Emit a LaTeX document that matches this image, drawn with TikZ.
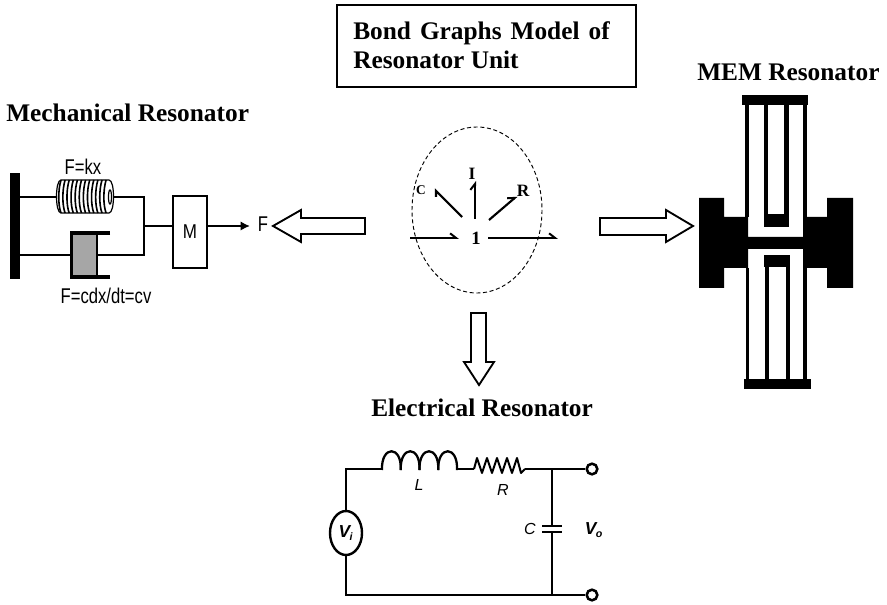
\documentclass[tikz,border=0pt]{standalone}
\usepackage{fontspec}
\setmainfont{Liberation Serif}
\setsansfont{Liberation Sans}
\usetikzlibrary{arrows.meta,calc,shapes.geometric}
\tikzset{
  x=0.75pt,y=-0.75pt,
  wire/.style={line width=1.7pt,draw=black},
  heading/.style={font=\fontsize{19pt}{22pt}\selectfont\bfseries,inner sep=0pt,anchor=west,align=left},
  sanslabel/.style={font=\sffamily\fontsize{16pt}{18pt}\selectfont,inner sep=0pt,xscale=.78},
  itlabel/.style={font=\sffamily\itshape\fontsize{12pt}{14pt}\selectfont,inner sep=0pt},
  voltlabel/.style={font=\sffamily\bfseries\itshape\fontsize{13pt}{14pt}\selectfont,inner sep=0pt},
  bondlabel/.style={font=\fontsize{10pt}{12pt}\selectfont\bfseries,inner sep=0pt},
  biglabel/.style={font=\fontsize{13pt}{14pt}\selectfont\bfseries,inner sep=0pt},
  hollow/.style={draw=black,line width=1.4pt,fill=white,line join=miter},
  solid black/.style={fill=black,draw=none},
  terminal/.style={circle,draw=black,line width=1.9pt,fill=white,minimum size=8pt,inner sep=0pt},
  bond/.style={line width=1.6pt,draw=black},
  harp/.style={-{Straight Barb[left,length=4.5pt,width=7pt,line width=1.5pt]}},
}
\begin{document}
\begin{tikzpicture}
\useasboundingbox (0,0) rectangle (887,605);
% headings
\node[draw=black,line width=1.2pt,minimum width=224pt,minimum height=61.5pt,inner sep=0pt] (titlebox) at (486.5,46) {};
\node[heading] (title) at (353,45) {Bond\hspace{2pt} Graphs\hspace{2pt} Model\hspace{2pt} of\\Resonator Unit};
\node[heading] (mech) at (6,113) {Mechanical Resonator};
\node[heading] (mem) at (697,72) {MEM Resonator};
\node[heading] (elec) at (371,408) {Electrical Resonator};

% mechanical resonator
\fill[solid black] (10,173) rectangle (20,279);
\coordinate (wt) at (20,197); \coordinate (wb) at (20,255);
\coordinate (st) at (57,197); \coordinate (se) at (113,197);
\coordinate (jt) at (144,197); \coordinate (jb) at (144,255); \coordinate (jm) at (144,226);
\draw[wire] (wt) -- (st) (se) -- (jt) -- (jb) -- (97,255);
\draw[wire] (wb) -- (70,255);
\draw[line width=.9pt,fill=white] (61,180) -- (109,180) .. controls (115,180) and (115,213) .. (109,213) -- (61,213) .. controls (55,213) and (55,180) .. (61,180) -- cycle;
\foreach \i in {0,...,11}{
  \draw[line width=1.2pt] ({61+4.1*\i},180) .. controls ({58+4.1*\i},190) and ({58+4.1*\i},205) .. ({61+4.1*\i},213);
}
\draw[line width=.9pt,fill=white] (110,190) .. controls (112,190) and (112,204) .. (110,204) .. controls (108,204) and (108,190) .. (110,190) -- cycle;
\fill[black!35] (72,234) rectangle (96,276);
\draw[line width=2.4pt,line join=miter] (110,233) -- (71.5,233) -- (71.5,277) -- (110,277);
\draw[wire] (97,233) -- (97,277);
\node[draw=black,line width=1.3pt,minimum width=25.5pt,minimum height=54pt,inner sep=0pt,font=\sffamily\fontsize{15pt}{16pt}\selectfont] (M) at (190,232) {\scalebox{.85}[1]{M}};
\coordinate (Mw) at (M.west |- jm);
\coordinate (Me) at (M.east |- jm);
\draw[wire] (jm) -- (Mw);
\node[sanslabel] (F) at (263,224) {F};
\coordinate (Ftip) at (250,226);
\draw[wire,-{Latex[length=7pt,width=7pt]}] (Me) -- (Ftip);
\node[sanslabel] (Fk) at (83,167) {F=kx};
\node[sanslabel] (Fc) at (106,296) {F=cdx/dt=cv};

% hollow arrows
\draw[hollow] (365,218) -- (301,218) -- (301,210) -- (273,226) -- (301,242) -- (301,234) -- (365,234) -- cycle;
\draw[hollow] (600,218) -- (666,218) -- (666,210) -- (693,226) -- (666,242) -- (666,235) -- (600,235) -- cycle;
\draw[hollow] (471,313) -- (486,313) -- (486,362) -- (494,362) -- (479,385) -- (464,362) -- (471,362) -- cycle;

% bond graph
\draw[line width=.7pt,densely dashed] (477,210) ellipse [x radius=65,y radius=83];
\node[font=\fontsize{14pt}{16pt}\selectfont\bfseries,inner sep=0pt] (one) at (476,238) {1};
\node[bondlabel] (C) at (421,190) {C};
\node[biglabel] (I) at (472,174) {I};
\node[biglabel] (R) at (523,191) {R};
\coordinate (bin) at (410,238); \coordinate (bout) at (558,238);
\draw[bond,harp] (bin) -- (459,238);
\draw[line width=1.1pt,draw=black,harp] (488,238) -- (bout);
\draw[bond] (462,217) -- (436,191) -- (436,197);
\draw[bond,harp] (475,219) -- (475,181);
\draw[bond,harp] (489,220) -- (517,196);

% MEM resonator
\fill[solid black] (742,95) rectangle (808,105);
\fill[solid black] (745,105) rectangle (749,217);
\fill[solid black] (803,105) rectangle (807,217);
\fill[solid black] (764,105) rectangle (768,227);
\fill[solid black] (784,105) rectangle (789,227);
\fill[solid black] (764,214) rectangle (789,227);
\fill[solid black] (699,198) -- (724,198) -- (724,217) -- (748,217) -- (748,237) -- (803,237) -- (803,217) -- (827,217) -- (827,198) -- (853,198) -- (853,288) -- (827,288) -- (827,268) -- (803,268) -- (803,249) -- (748,249) -- (748,268) -- (724,268) -- (724,288) -- (699,288) -- cycle;
\fill[solid black] (764,255) rectangle (790,267);
\fill[solid black] (765,267) rectangle (769,379);
\fill[solid black] (786,267) rectangle (790,379);
\fill[solid black] (746,268) rectangle (749,379);
\fill[solid black] (803,268) rectangle (807,379);
\fill[solid black] (744,379) rectangle (811,389);

% electrical resonator
\node[ellipse,draw=black,line width=1.8pt,fill=white,minimum width=24pt,minimum height=33pt,inner sep=0pt,voltlabel] (Vi) at (346,533) {V\textsubscript{\kern-.5pt\fontsize{8pt}{9pt}\selectfont i}};
\node[terminal] (To) at (592,469) {};
\node[terminal] (Tb) at (592,595) {};
\coordinate (tl) at (346,469); \coordinate (bl) at (346,595);
\coordinate (Ls) at (382,469); \coordinate (Le) at (457,469);
\coordinate (Rs) at (474,469); \coordinate (Re) at (525,469);
\coordinate (Cj) at (552,469); \coordinate (Cb) at (552,595);
\coordinate (Cu) at (552,526); \coordinate (Cl) at (552,532);
\draw[wire] (Vi) -- (tl) -- (Ls);
\draw[wire] (Vi) -- (bl) -- (Cb) -- (Tb);
\draw[wire] (Le) -- (Rs);
\draw[wire] (Re) -- (To);
\draw[wire] (Cj) -- (Cu) (Cl) -- (Cb);
\draw[wire] (542,526) -- (562,526);
\draw[wire] (542,532) -- (562,532);
\foreach \a in {382,400.75,419.5,438.25}{
  \draw[line width=1.7pt] (\a,470) .. controls (\a-1,445) and (\a+20,445) .. (\a+18.75,470);
}
\draw[line width=1.5pt,line join=round] (Rs) -- (477,458) -- (482,473) -- (487,458) -- (492,473) -- (497,458) -- (502,473) -- (507,458) -- (512,473) -- (517,458) -- (521,473) -- (Re);
\node[itlabel] (L) at (419,485) {L};
\node[itlabel] (Rl) at (503,490) {R};
\node[itlabel] (Cl2) at (530,529) {C};
\node[voltlabel] (Vo) at (594,530) {V\textsubscript{\kern-.5pt\fontsize{8pt}{9pt}\selectfont o}};
\end{tikzpicture}
\end{document}
